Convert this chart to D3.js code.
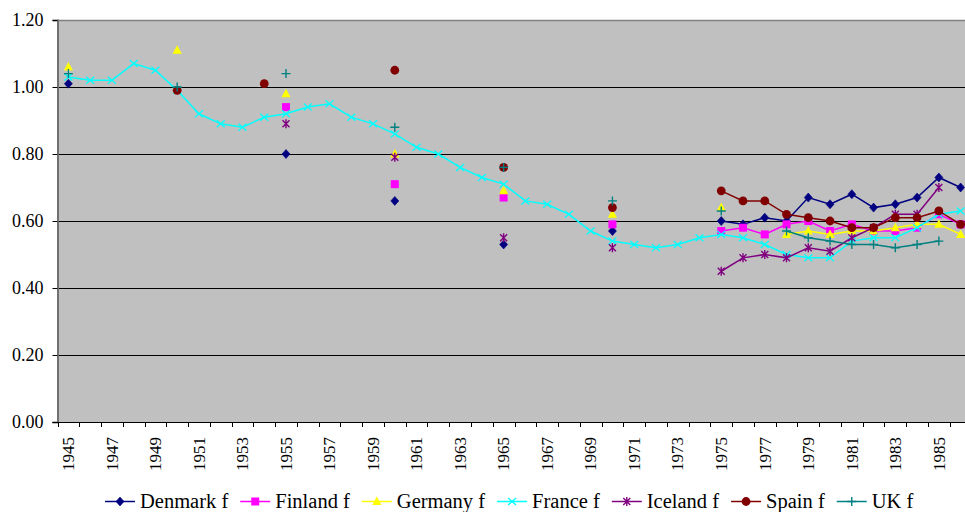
<!DOCTYPE html>
<html>
<head>
<meta charset="utf-8">
<script src="https://cdn.jsdelivr.net/npm/d3@7"></script>
<style>
  html, body { margin: 0; padding: 0; background: #fff; }
  svg { display: block; font-family: "Liberation Serif", "Times New Roman", serif; }
</style>
</head>
<body>
<svg id="chart" width="965" height="512"></svg>
<script>
// ---------- DATA ----------
const years = [1945,1946,1947,1948,1949,1950,1951,1952,1953,1954,
               1955,1956,1957,1958,1959,1960,1961,1962,1963,1964,
               1965,1966,1967,1968,1969,1970,1971,1972,1973,1974,
               1975,1976,1977,1978,1979,1980,1981,1982,1983,1984,
               1985,1986];

const denmark = [1.01,null,null,null,null, null,null,null,null,null,
                 0.80,null,null,null,null, 0.66,null,null,null,null,
                 0.53,null,null,null,null, 0.57,null,null,null,null,
                 0.60,0.59,0.61,0.60,0.67, 0.65,0.68,0.64,0.65,0.67,
                 0.73,0.70];

const finland = [null,null,null,null,null, null,null,null,null,null,
                 0.94,null,null,null,null, 0.71,null,null,null,null,
                 0.67,null,null,null,null, 0.59,null,null,null,null,
                 0.57,0.58,0.56,0.59,0.60, 0.57,0.59,0.57,0.57,0.58,
                 0.62,0.59];

const germany = [1.06,null,null,null,null, 1.11,null,null,null,null,
                 0.98,null,null,null,null, 0.80,null,null,null,null,
                 0.69,null,null,null,null, 0.62,null,null,null,null,
                 0.64,null,null,0.56,0.57, 0.56,0.57,0.57,0.58,0.59,
                 0.59,0.56];

const france  = [1.03,1.02,1.02,1.07,1.05, 0.99,0.92,0.89,0.88,0.91,
                 0.92,0.94,0.95,0.91,0.89, 0.86,0.82,0.80,0.76,0.73,
                 0.71,0.66,0.65,0.62,0.57, 0.54,0.53,0.52,0.53,0.55,
                 0.56,0.55,0.53,0.50,0.49, 0.49,0.54,0.55,0.55,0.58,
                 0.62,0.63];

const iceland = [null,null,null,null,null, null,null,null,null,null,
                 0.89,null,null,null,null, 0.79,null,null,null,null,
                 0.55,null,null,null,null, 0.52,null,null,null,null,
                 0.45,0.49,0.50,0.49,0.52, 0.51,0.55,0.58,0.62,0.62,
                 0.70,null];

const spain   = [null,null,null,null,null, 0.99,null,null,null,1.01,
                 null,null,null,null,null, 1.05,null,null,null,null,
                 0.76,null,null,null,null, 0.64,null,null,null,null,
                 0.69,0.66,0.66,0.62,0.61, 0.60,0.58,0.58,0.61,0.61,
                 0.63,0.59];

const uk      = [1.04,null,null,null,null, 1.00,null,null,null,null,
                 1.04,null,null,null,null, 0.88,null,null,null,null,
                 0.76,null,null,null,null, 0.66,null,null,null,null,
                 0.63,null,null,0.57,0.55, 0.54,0.53,0.53,0.52,0.53,
                 0.54,null];

const seriesNames = ["Denmark f","Finland f","Germany f","France f","Iceland f","Spain f","UK f"];
const yTicks = [0, 0.2, 0.4, 0.6, 0.8, 1.0, 1.2];

// ---------- STYLE ----------
const seriesValues = [denmark, finland, germany, france, iceland, spain, uk];
const colors  = ["#000080","#FF00FF","#FFFF00","#00FFFF","#800080","#800000","#008080"];
const shapes  = ["diamond","square","triangle","x","asterisk","circle","plus"];
const serif = "'Liberation Serif', 'Times New Roman', serif";

const svg = d3.select("#chart");
const pLeft = 57.5, pRight = 971.5, pTop = 20, pBottom = 422;

const x = d3.scaleBand().domain(years).range([pLeft, pRight]).padding(0);
const y = d3.scaleLinear().domain([0, 1.2]).range([pBottom, pTop]);
const cx = d => x(d) + x.bandwidth() / 2;

// plot background
svg.append("rect").attr("x", pLeft).attr("y", pTop)
   .attr("width", pRight - pLeft).attr("height", pBottom - pTop)
   .attr("fill", "#C0C0C0");

// gridlines
svg.append("g").selectAll("line")
   .data(yTicks.filter(t => t > 0 && t < 1.2))
   .join("line")
   .attr("x1", pLeft).attr("x2", pRight)
   .attr("y1", d => Math.round(y(d)) + 0.5).attr("y2", d => Math.round(y(d)) + 0.5)
   .attr("stroke", "#000").attr("stroke-width", 1);

// plot border top
svg.append("line").attr("x1", pLeft).attr("x2", pRight)
   .attr("y1", pTop + 0.5).attr("y2", pTop + 0.5)
   .attr("stroke", "#808080").attr("stroke-width", 1.5);

// Y axis
const yAxis = d3.axisLeft(y).tickValues(yTicks).tickFormat(d3.format(".2f")).tickSize(5).tickPadding(9);
const gy = svg.append("g").attr("transform", `translate(${pLeft},0)`).call(yAxis)
  .attr("font-family", serif);
gy.select(".domain").attr("stroke", "#707070").attr("stroke-width", 2);
gy.selectAll(".tick line").attr("stroke", "#000");
gy.selectAll(".tick text").attr("font-size", "18px").attr("fill", "#000")
  .attr("font-family", serif);

// X axis line
svg.append("line").attr("x1", pLeft - 5).attr("x2", pRight)
   .attr("y1", pBottom + 0.5).attr("y2", pBottom + 0.5)
   .attr("stroke", "#000").attr("stroke-width", 1.2);

// X ticks at category boundaries
const boundaries = years.map(d => x(d)).concat([pRight]);
svg.append("g").selectAll("line").data(boundaries).join("line")
   .attr("x1", d => Math.round(d) + 0.5).attr("x2", d => Math.round(d) + 0.5)
   .attr("y1", pBottom).attr("y2", pBottom + 5)
   .attr("stroke", "#000");

// X labels (every other year)
svg.append("g").attr("font-family", serif)
   .selectAll("text").data(years.filter((d, i) => i % 2 === 0)).join("text")
   .attr("transform", d => `translate(${cx(d)},${pBottom + 15}) rotate(-90)`)
   .attr("text-anchor", "end").attr("dy", "0.34em")
   .attr("font-size", "17px").attr("fill", "#000")
   .text(d => d);

// marker drawing
function drawMarker(g, shape, color) {
  switch (shape) {
    case "diamond":
      g.append("path").attr("d", "M0,-4.5L4,0L0,4.5L-4,0Z").attr("fill", color).attr("stroke", color).attr("stroke-width", 0.6); break;
    case "square":
      g.append("rect").attr("x", -4).attr("y", -4).attr("width", 8).attr("height", 8).attr("fill", color); break;
    case "triangle":
      g.append("path").attr("d", "M0,-5L4.6,3.5L-4.6,3.5Z").attr("fill", color); break;
    case "circle":
      g.append("circle").attr("r", 4.4).attr("fill", color); break;
    case "x":
      g.append("path").attr("d", "M-4,-3.5L4,3.5M-4,3.5L4,-3.5").attr("stroke", color).attr("stroke-width", 1.3).attr("fill", "none"); break;
    case "asterisk":
      g.append("path").attr("d", "M-3.5,-3.5L3.5,3.5M-3.5,3.5L3.5,-3.5M0,-4.5L0,4.5").attr("stroke", color).attr("stroke-width", 1.4).attr("fill", "none"); break;
    case "plus":
      g.append("path").attr("d", "M-4.5,0L4.5,0M0,-4.5L0,4.5").attr("stroke", color).attr("stroke-width", 1.4).attr("fill", "none"); break;
  }
}

// series
const line = d3.line()
  .defined(d => d.v !== null)
  .x(d => cx(d.year)).y(d => y(d.v));

seriesValues.forEach((vals, si) => {
  const pts = years.map((yr, i) => ({ year: yr, v: vals[i] }));
  const g = svg.append("g");
  g.append("path").datum(pts).attr("d", line)
   .attr("fill", "none").attr("stroke", colors[si]).attr("stroke-width", 1.5);
  pts.filter(p => p.v !== null).forEach(p => {
    const mg = g.append("g").attr("transform", `translate(${cx(p.year)},${y(p.v)})`);
    drawMarker(mg, shapes[si], colors[si]);
  });
});

// legend
const legend = svg.append("g").attr("font-size", "20.5px").attr("font-family", serif);
let lx = 105;
const ly = 501.5;
seriesNames.forEach((name, si) => {
  const g = legend.append("g");
  g.append("line").attr("x1", lx).attr("x2", lx + 30).attr("y1", ly).attr("y2", ly)
   .attr("stroke", colors[si]).attr("stroke-width", 1.5);
  const mg = g.append("g").attr("transform", `translate(${lx + 15},${ly})`);
  drawMarker(mg, shapes[si], colors[si]);
  const t = g.append("text").attr("x", lx + 35).attr("y", ly + 6.5).attr("fill", "#000").text(name);
  const w = t.node().getComputedTextLength();
  lx = lx + 35 + w + 12;
});
</script>
</body>
</html>
